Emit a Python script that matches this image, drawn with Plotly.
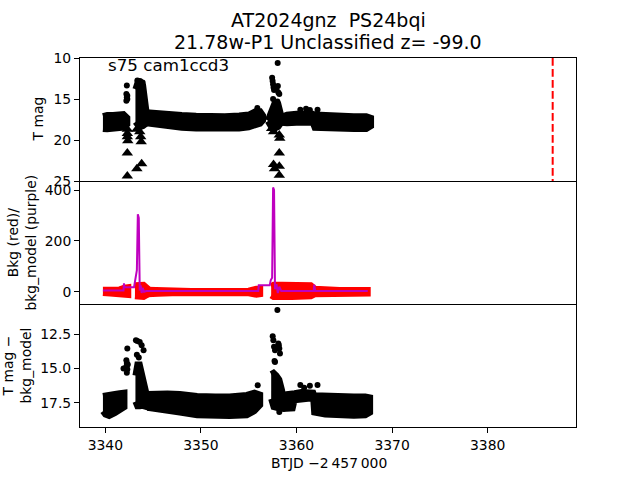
import plotly.graph_objects as go
from plotly.subplots import make_subplots

# ---------------- data ----------------
# Top panel: T mag, dense bands described by upper/lower envelopes of the points
top_a_x = [3339.75, 3340.2, 3340.8, 3341.4, 3341.9, 3342.3]
top_a_hi = [17.1, 16.95, 16.95, 16.9, 16.85, 17.3]
top_a_lo = [18.65, 18.7, 18.65, 18.6, 18.5, 18.1]

top_c2_x = [3343.15, 3343.4, 3343.7, 3343.95, 3344.3]
top_c2_hi = [13.8, 12.9, 12.9, 13.3, 16.5]
top_c2_lo = [17.8, 18.2, 18.4, 18.3, 18.0]

top_b_x = [3344.3, 3345.0, 3346.5, 3348.0, 3349.5, 3351.0, 3352.5, 3354.0, 3355.0, 3355.7, 3356.2, 3356.5]
top_b_hi = [16.6, 16.7, 16.85, 16.95, 17.05, 17.1, 17.1, 17.0, 16.9, 16.5, 16.5, 17.0]
top_b_lo = [17.95, 18.15, 18.35, 18.5, 18.6, 18.65, 18.65, 18.6, 18.45, 18.25, 18.0, 17.6]

top_c3_x = [3357.0, 3357.3, 3357.7, 3358.1, 3358.4]
top_c3_hi = [17.6, 16.6, 15.5, 15.6, 17.0]
top_c3_lo = [17.7, 18.3, 18.6, 18.4, 17.9]

top_c_x = [3358.4, 3359.0, 3360.0, 3361.0, 3361.7, 3361.9, 3363.0, 3364.5, 3366.0, 3367.3, 3367.8]
top_c_hi = [17.2, 16.9, 16.8, 16.75, 16.8, 16.9, 17.0, 17.05, 17.1, 17.1, 17.3]
top_c_lo = [17.9, 17.95, 17.9, 17.85, 17.9, 18.5, 18.6, 18.65, 18.65, 18.65, 18.3]

top_dot_x = [3342.25, 3342.2, 3342.3, 3342.25, 3342.3, 3342.2,
             3343.35, 3343.6, 3343.9, 3343.5,
             3357.45, 3357.5, 3357.55, 3357.6, 3357.65, 3358.03, 3358.05, 3357.9,
             3358.1, 3358.2, 3357.55, 3358.0,
             3360.4, 3361.0, 3361.4, 3362.2, 3355.9]
top_dot_y = [13.35, 14.4, 14.6, 14.8, 15.0, 15.2,
             12.75, 12.8, 13.0, 13.6,
             12.4, 12.8, 13.2, 13.6, 13.9, 10.62, 13.4, 13.8,
             14.2, 14.4, 15.0, 15.3,
             16.3, 16.2, 16.35, 16.3, 16.1]

top_tri_x = [3342.3, 3342.3, 3342.3, 3342.35, 3342.3, 3342.3,
             3343.3, 3343.6, 3343.7, 3343.75, 3343.3, 3343.8,
             3357.4, 3357.6, 3358.2, 3358.25, 3358.2, 3357.6, 3357.7, 3358.2, 3358.2]
top_tri_y = [18.7, 19.2, 19.6, 20.1, 21.6, 24.4,
             18.7, 19.0, 19.6, 20.2, 23.5, 22.9,
             18.6, 19.0, 19.4, 19.8, 21.6, 23.0, 23.5, 23.2, 24.3]

vline_x = 3386.8

# Middle panel: background (red points) and background model (purple line)
bkg_a_x = [3339.75, 3340.5, 3341.5, 3342.0, 3342.4]
bkg_a_hi = [8, 9, 9, 16, 18]
bkg_a_lo = [-5, -7, -7, -11, -13]

bkg_c2_x = [3343.1, 3343.5, 3344.0, 3344.4]
bkg_c2_hi = [25, 27, 27, 14]
bkg_c2_lo = [-18, -21, -21, -12]

bkg_b_x = [3344.4, 3345.5, 3347.0, 3349.0, 3351.0, 3353.0, 3355.0, 3355.8, 3356.2]
bkg_b_hi = [8, 6, 4, 3, 3, 3, 4, 12, 12]
bkg_b_lo = [-10, -8, -6, -5, -5, -5, -6, -12, -10]

bkg_c_x = [3357.35, 3357.6, 3358.5, 3359.5, 3360.5, 3361.5, 3361.9, 3363.0, 3364.5, 3366.0, 3367.45]
bkg_c_hi = [22, 27, 27, 27, 27, 25, 12, 8, 7, 7, 7]
bkg_c_lo = [-15, -21, -21, -21, -21, -18, -10, -8, -7, -7, -7]

model_x = [3339.75, 3341.9, 3341.95, 3342.0, 3343.0, 3343.1, 3343.3, 3343.4, 3343.5, 3343.6,
           3343.7, 3343.8, 3343.9, 3344.05, 3344.3, 3356.0, 3356.05, 3357.2, 3357.3, 3357.45,
           3357.55, 3357.65, 3357.75, 3357.9, 3358.05, 3358.2, 3358.4, 3361.8, 3361.85, 3361.95,
           3367.45]
model_y = [5, 5, 33, 17, 17, 40, 85, 305, 290, 5,
           25, -5, 15, 0, 3, 3, 25, 25, 45, 55,
           410, 400, 10, 30, -5, 20, 3, 3, 28, 3,
           3]

# Bottom panel: T mag - bkg_model
sub_a_x = [3339.75, 3340.0, 3340.4, 3341.0, 3341.5, 3342.0]
sub_a_hi = [17.0, 16.95, 16.9, 16.85, 16.8, 16.75]
sub_a_lo = [18.1, 18.35, 18.45, 18.25, 18.05, 17.8]

sub_c2_x = [3343.15, 3343.35, 3343.6, 3343.8, 3344.05, 3344.3]
sub_c2_hi = [15.5, 14.7, 14.7, 15.3, 15.8, 16.8]
sub_c2_lo = [17.4, 17.75, 17.75, 17.7, 17.7, 17.8]

sub_b_x = [3344.4, 3345.0, 3346.5, 3347.8, 3349.6, 3351.5, 3353.0, 3354.8, 3355.6, 3356.2]
sub_b_hi = [16.85, 16.82, 16.82, 16.85, 17.0, 17.04, 17.04, 16.92, 16.75, 16.9]
sub_b_lo = [17.85, 17.95, 18.1, 18.2, 18.4, 18.45, 18.45, 18.4, 18.1, 17.65]

sub_c3_x = [3357.35, 3357.6, 3357.9, 3358.2, 3358.5]
sub_c3_hi = [15.4, 15.3, 15.5, 15.8, 16.6]
sub_c3_lo = [17.2, 17.8, 17.9, 17.9, 17.9]

sub_c_x = [3358.5, 3359.0, 3359.6, 3359.8, 3360.5, 3361.2, 3361.75, 3361.85, 3363.0, 3364.5, 3366.0, 3367.2, 3367.7]
sub_c_hi = [16.9, 16.9, 16.9, 16.8, 16.7, 16.7, 16.75, 16.95, 17.0, 17.04, 17.04, 17.04, 17.1]
sub_c_lo = [17.95, 17.95, 17.9, 17.3, 17.2, 17.2, 17.2, 18.2, 18.35, 18.43, 18.43, 18.4, 18.2]

sub_dot_x = [3342.3, 3342.2, 3342.25, 3342.2, 3342.3, 3342.25, 3341.9, 3342.35,
             3343.2, 3343.35, 3343.6, 3343.8, 3344.0, 3343.5, 3343.3,
             3358.0, 3357.51, 3357.58, 3357.65, 3357.75, 3358.1, 3358.2, 3358.27, 3358.15,
             3357.75, 3357.7, 3358.2,
             3355.94, 3360.4, 3360.8, 3361.4, 3362.2]
sub_dot_y = [13.54, 14.4, 14.6, 14.85, 15.05, 15.3, 15.0, 14.7,
             12.94, 13.0, 13.08, 13.3, 13.67, 14.2, 14.0,
             10.75, 12.65, 12.94, 13.42, 13.67, 13.18, 13.54, 13.9, 13.3,
             14.52, 14.45, 18.16,
             16.22, 16.2, 16.4, 16.25, 16.2]

x_range = [3337.35, 3389.24]
top_ticks = [10, 15, 20, 25]
mid_ticks = [0, 200, 400]
bot_ticks = [12.5, 15.0, 17.5]
bot_ticktext = ["12.5", "15.0", "17.5"]
x_ticks = [3340, 3350, 3360, 3370, 3380]

# ---------------- figure ----------------
FONT = "DejaVu Sans"
fig = make_subplots(rows=3, cols=1, shared_xaxes=True, vertical_spacing=0)


def band(xs, hi, lo, color, row):
    fig.add_trace(go.Scatter(x=xs + xs[::-1], y=hi + lo[::-1], mode="lines",
                             fill="toself", fillcolor=color,
                             line=dict(color=color, width=6),
                             hoverinfo="skip", showlegend=False), row=row, col=1)


for xs, hi, lo in [(top_a_x, top_a_hi, top_a_lo), (top_c2_x, top_c2_hi, top_c2_lo),
                   (top_b_x, top_b_hi, top_b_lo), (top_c3_x, top_c3_hi, top_c3_lo),
                   (top_c_x, top_c_hi, top_c_lo)]:
    band(xs, hi, lo, "black", 1)
fig.add_trace(go.Scatter(x=top_dot_x, y=top_dot_y, mode="markers",
                         marker=dict(color="black", size=6), showlegend=False), row=1, col=1)
fig.add_trace(go.Scatter(x=top_tri_x, y=top_tri_y, mode="markers",
                         marker=dict(color="black", size=10, symbol="triangle-up"),
                         showlegend=False), row=1, col=1)
fig.add_trace(go.Scatter(x=[vline_x, vline_x], y=[top_ticks[0], top_ticks[-1]], mode="lines",
                         line=dict(color="red", width=2, dash="7.7px,3.3px"),
                         showlegend=False), row=1, col=1)

for xs, hi, lo in [(bkg_a_x, bkg_a_hi, bkg_a_lo), (bkg_c2_x, bkg_c2_hi, bkg_c2_lo),
                   (bkg_b_x, bkg_b_hi, bkg_b_lo), (bkg_c_x, bkg_c_hi, bkg_c_lo)]:
    band(xs, hi, lo, "#ff0000", 2)
fig.add_trace(go.Scatter(x=model_x, y=model_y, mode="lines",
                         line=dict(color="#bf00bf", width=2), showlegend=False), row=2, col=1)

for xs, hi, lo in [(sub_a_x, sub_a_hi, sub_a_lo), (sub_c2_x, sub_c2_hi, sub_c2_lo),
                   (sub_b_x, sub_b_hi, sub_b_lo), (sub_c3_x, sub_c3_hi, sub_c3_lo),
                   (sub_c_x, sub_c_hi, sub_c_lo)]:
    band(xs, hi, lo, "black", 3)
fig.add_trace(go.Scatter(x=sub_dot_x, y=sub_dot_y, mode="markers",
                         marker=dict(color="black", size=6), showlegend=False), row=3, col=1)

axis_common = dict(showline=True, linecolor="black", linewidth=1,
                   showgrid=False, zeroline=False, ticks="outside", ticklen=5,
                   tickwidth=1, tickcolor="black",
                   tickfont=dict(family=FONT, size=13.9, color="black"))

for i in (1, 2, 3):
    fig.update_xaxes(axis_common, range=x_range, tickvals=x_ticks, mirror=False, row=i, col=1)
fig.update_xaxes(ticks="", showticklabels=False, mirror=True, row=1, col=1)
fig.update_xaxes(ticks="", showticklabels=False, row=2, col=1)

fig.update_yaxes(axis_common, mirror=True, range=[25, 10], tickvals=top_ticks, row=1, col=1)
fig.update_yaxes(axis_common, mirror=True, range=[-48.4, 435.4], tickvals=mid_ticks, row=2, col=1)
fig.update_yaxes(axis_common, mirror=True, range=[19.25, 10.31], tickvals=bot_ticks,
                 ticktext=bot_ticktext, row=3, col=1)

W0, W1, H0, H1 = 80, 576, 58, 427


def px(x):
    return (x - W0) / (W1 - W0)


def py(y):
    return (H1 - y) / (H1 - H0)


ann = [
    dict(text="AT2024gnz  PS24bqi", x=px(328), y=py(20), font=dict(size=19)),
    dict(text="21.78w-P1 Unclassified z= -99.0", x=px(328), y=py(42), font=dict(size=19)),
    dict(text="s75 cam1ccd3", x=px(106), y=py(65), xanchor="left", font=dict(size=16.7)),
    dict(text="T mag", x=px(38), y=py(119.5), textangle=-90, font=dict(size=13.9)),
    dict(text="Bkg (red)/<br>bkg_model (purple)", x=px(21), y=py(242.5), textangle=-90,
         font=dict(size=13.9)),
    dict(text="T mag \u2212<br>bkg_model", x=px(16), y=py(365.5), textangle=-90,
         font=dict(size=13.9)),
    dict(text="BTJD \u22122\u2009457\u2009000", x=px(329), y=py(463.3), font=dict(size=13.9)),
]
for a in ann:
    a.update(xref="paper", yref="paper", showarrow=False,
             xanchor=a.get("xanchor", "center"), yanchor="middle")
    a["font"].update(family=FONT, color="black")

fig.update_layout(width=640, height=480, paper_bgcolor="white", plot_bgcolor="white",
                  margin=dict(l=W0, r=640 - W1, t=H0, b=480 - H1),
                  showlegend=False, annotations=ann,
                  font=dict(family=FONT, color="black"))

fig.write_html("out.html")
